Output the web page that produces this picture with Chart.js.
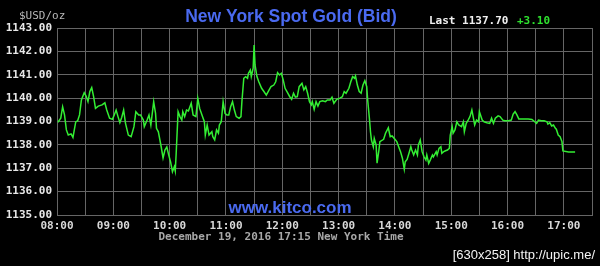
<!DOCTYPE html>
<html>
<head>
<meta charset="utf-8">
<title>New York Spot Gold (Bid)</title>
<script src="https://cdn.jsdelivr.net/npm/chart.js@4/dist/chart.umd.min.js"></script>
<style>
  html, body { margin: 0; padding: 0; background: #000; }
  #wrap { width: 600px; height: 266px; position: relative; }
</style>
</head>
<body>
<div id="wrap"><canvas id="gold-chart" width="600" height="266"></canvas></div>
<script>
  // minutes since midnight, New York time
  var times = [
    481, 484, 486, 488, 490, 492, 495, 497, 500, 502, 504, 506, 509, 511, 513, 515, 517, 519, 521, 524,
    528, 531, 533, 536, 539, 541, 543, 545, 547, 549, 551, 553, 556, 559, 562, 564, 567, 569, 572, 573,
    576, 578, 580, 583, 585, 586, 588, 591, 593, 595, 597, 599, 601, 603, 605, 606, 607, 609, 611, 613,
    614, 616, 618, 620, 623, 625, 628, 630, 632, 635, 637, 638, 640, 642, 645, 646, 648, 650, 652, 653,
    655, 657, 659, 661, 663, 665, 667, 669, 671, 674, 676, 677, 679, 681, 683, 684, 686, 687, 689, 690,
    691, 693, 695, 698, 701, 703, 706, 708, 711, 713, 715, 717, 719, 721, 723, 725, 728, 730, 732, 734,
    736, 738, 741, 743, 745, 747, 749, 751, 752, 754, 756, 758, 760, 763, 766, 768, 771, 773, 775, 778,
    781, 784, 786, 788, 791, 793, 795, 797, 798, 800, 802, 804, 806, 808, 810, 811, 813, 814, 815, 817,
    818, 820, 821, 823, 824, 828, 830, 833, 835, 837, 840, 842, 844, 846, 848, 850, 851, 853, 855, 857,
    858, 860, 862, 864, 865, 867, 869, 871, 873, 874, 876, 878, 880, 881, 884, 885, 887, 889, 890, 892,
    894, 896, 898, 899, 901, 902, 904, 906, 908, 911, 913, 914, 916, 918, 920, 922, 923, 925, 927, 929,
    930, 933, 935, 938, 941, 943, 945, 947, 950, 952, 955, 957, 961, 964, 966, 968, 970, 972, 977, 982,
    986, 989, 991, 993, 996, 999, 1002, 1003, 1005, 1007, 1009, 1011, 1012, 1014, 1016, 1018, 1019, 1025, 1032
  ];

  var bidPrices = [
    1138.97, 1139.14, 1139.63, 1139.28, 1138.64, 1138.42, 1138.47, 1138.32, 1138.99, 1139.03,
    1139.28, 1139.92, 1140.23, 1140.09, 1139.85, 1140.28, 1140.45, 1140.06, 1139.56, 1139.66,
    1139.71, 1139.80, 1139.49, 1139.14, 1139.09, 1139.28, 1139.49, 1139.21, 1138.95, 1139.18,
    1139.49, 1138.92, 1138.42, 1138.35, 1138.78, 1139.42, 1139.28, 1139.28, 1139.06, 1138.78,
    1139.06, 1139.28, 1138.85, 1139.85, 1139.35, 1138.71, 1138.56, 1137.92, 1137.44, 1137.78,
    1137.91, 1137.57, 1137.27, 1136.85, 1137.07, 1136.88, 1137.65, 1139.42, 1139.21, 1139.06,
    1139.42, 1139.21, 1139.49, 1139.45, 1139.78, 1139.28, 1139.21, 1139.99, 1139.56, 1139.21,
    1138.99, 1138.42, 1138.85, 1138.42, 1138.56, 1138.35, 1138.21, 1138.64, 1138.50, 1138.85,
    1138.99, 1139.85, 1139.35, 1139.28, 1139.28, 1139.63, 1139.85, 1139.49, 1139.21, 1139.14,
    1139.21, 1139.85, 1140.85, 1140.92, 1140.85, 1141.06, 1141.20, 1140.92, 1141.28, 1142.27,
    1141.42, 1140.92, 1140.70, 1140.42, 1140.25, 1140.13, 1140.35, 1140.49, 1140.56, 1140.70,
    1141.09, 1140.99, 1141.06, 1140.78, 1140.42, 1140.28, 1140.06, 1139.95, 1140.21, 1140.04,
    1140.06, 1140.49, 1140.63, 1140.35, 1140.49, 1140.21, 1139.85, 1139.71, 1139.85, 1139.52,
    1139.85, 1139.66, 1139.85, 1139.89, 1139.85, 1139.92, 1139.92, 1140.04, 1139.78, 1139.95,
    1139.99, 1140.06, 1140.28, 1140.21, 1140.42, 1140.70, 1140.92, 1140.85, 1140.95, 1140.56,
    1140.28, 1140.21, 1140.56, 1140.75, 1140.49, 1139.92, 1139.06, 1138.56, 1138.21, 1137.92,
    1138.28, 1137.99, 1137.22, 1137.78, 1138.14, 1138.24, 1138.50, 1138.73, 1138.35, 1138.38,
    1138.24, 1138.14, 1137.92, 1137.71, 1137.43, 1136.96, 1137.28, 1137.38, 1137.64, 1137.92,
    1137.78, 1137.57, 1137.78, 1137.57, 1137.99, 1138.21, 1137.71, 1137.49, 1137.35, 1137.57,
    1137.21, 1137.38, 1137.57, 1137.49, 1137.71, 1137.57, 1137.85, 1137.92, 1137.64, 1137.71,
    1137.75, 1137.78, 1137.85, 1138.42, 1138.78, 1138.50, 1138.64, 1138.99, 1138.85, 1138.78,
    1138.99, 1138.56, 1138.92, 1139.06, 1139.21, 1139.49, 1139.28, 1138.85, 1139.06, 1138.99,
    1139.42, 1139.06, 1138.99, 1138.95, 1138.92, 1139.14, 1138.92, 1139.14, 1139.24, 1139.21,
    1139.06, 1139.03, 1139.03, 1139.06, 1139.32, 1139.42, 1139.28, 1139.11, 1139.11, 1139.11,
    1139.09, 1138.99, 1138.92, 1139.06, 1139.03, 1139.03, 1138.99, 1138.89, 1138.95, 1138.81,
    1138.85, 1138.71, 1138.67, 1138.42, 1138.35, 1138.14, 1137.74, 1137.70, 1137.70
  ];

  var yMin = 1135, yMax = 1143;
  var xMin = 480, xMax = 1050;   // 08:00 .. 17:30

  var chartTitle = 'New York Spot Gold (Bid)';
  var unitLabel = '$USD/oz';
  var lastLabel = 'Last 1137.70';
  var changeLabel = '+3.10';
  var dateLabel = 'December 19, 2016 17:15 New York Time';
  var siteLabel = 'www.kitco.com';
  var stampLabel = '[630x258] http://upic.me/';

  var MONO = '"DejaVu Sans Mono", monospace';
  var SANS = '"Liberation Sans", Arial, sans-serif';

  function pad2(n) { return (n < 10 ? '0' : '') + n; }

  var points = times.map(function (t, i) { return { x: t, y: bidPrices[i] }; });

  var textPlugin = {
    id: 'kitcoText',
    beforeDraw: function (chart) {
      var ctx = chart.ctx;
      ctx.save();
      ctx.fillStyle = '#000';
      ctx.fillRect(0, 0, chart.width, chart.height);
      ctx.restore();
    },
    afterDraw: function (chart) {
      var ctx = chart.ctx;
      ctx.save();
      ctx.textBaseline = 'middle';

      ctx.font = 'bold 17.5px ' + SANS;
      ctx.fillStyle = '#4a6af0';
      ctx.textAlign = 'center';
      ctx.fillText(chartTitle, 291, 17);

      ctx.font = 'bold 17px ' + SANS;
      ctx.fillText(siteLabel, 290, 208);

      ctx.font = '11px ' + MONO;
      ctx.fillStyle = '#b8b8b8';
      ctx.textAlign = 'left';
      ctx.fillText(unitLabel, 19, 16);

      ctx.font = 'bold 11px ' + MONO;
      ctx.fillStyle = '#f0f0f0';
      ctx.fillText(lastLabel, 429, 21);
      ctx.fillStyle = '#2ee02e';
      ctx.fillText(changeLabel, 517, 21);

      ctx.fillStyle = '#a8a8a8';
      ctx.textAlign = 'center';
      ctx.fillText(dateLabel, 281, 237);

      ctx.font = '13px ' + SANS;
      ctx.fillStyle = '#f4f4f4';
      ctx.textAlign = 'right';
      ctx.fillText(stampLabel, 595, 255);
      ctx.restore();
    }
  };

  new Chart(document.getElementById('gold-chart').getContext('2d'), {
    type: 'line',
    data: {
      datasets: [{
        label: 'Bid',
        data: points,
        borderColor: '#33ee33',
        borderWidth: 1.5,
        pointRadius: 0,
        tension: 0,
        fill: false
      }]
    },
    options: {
      responsive: false,
      animation: false,
      parsing: true,
      layout: { padding: { left: 0, right: 8, top: 28, bottom: 0 } },
      plugins: {
        legend: { display: false },
        tooltip: { enabled: false },
        title: { display: false }
      },
      scales: {
        x: {
          type: 'linear',
          min: xMin,
          max: xMax,
          grid: { color: '#666', lineWidth: 1, drawTicks: false },
          border: { color: '#666' },
          afterFit: function (scale) { scale.height = 51; },
          ticks: {
            stepSize: 30,
            autoSkip: false,
            maxRotation: 0,
            padding: 5,
            color: '#d8d8d8',
            font: { family: MONO, size: 11, weight: 'bold' },
            callback: function (v) {
              if (v % 60 !== 0) return '';
              return pad2(Math.floor(v / 60)) + ':' + pad2(v % 60);
            }
          }
        },
        y: {
          min: yMin,
          max: yMax,
          grid: { color: '#666', lineWidth: 1, drawTicks: false },
          border: { color: '#666' },
          afterFit: function (scale) { scale.width = 57; },
          ticks: {
            stepSize: 1,
            padding: 5,
            color: '#e8e8e8',
            font: { family: MONO, size: 11, weight: 'bold' },
            callback: function (v) { return Number(v).toFixed(2); }
          }
        }
      }
    },
    plugins: [textPlugin]
  });
</script>
</body>
</html>
